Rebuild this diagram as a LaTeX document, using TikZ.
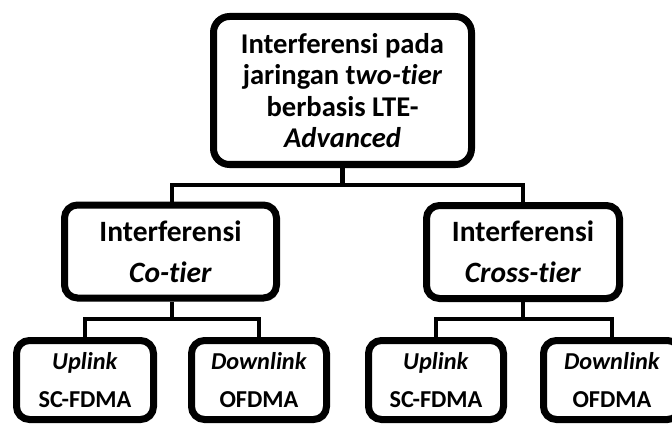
\documentclass[tikz,border=0pt]{standalone}
\usepackage{fontspec}
\setmainfont{Carlito}[Ligatures=NoCommon]
\usetikzlibrary{shadows}
\begin{document}
\begin{tikzpicture}[x=1pt,y=-1pt,
  box/.style={draw=black, line width=7pt, fill=white, rounded corners=13pt,
    inner sep=0pt, align=center,
    drop shadow={shadow xshift=2.5pt, shadow yshift=-3pt, opacity=0.22, fill=black}},
  topbox/.style={box, rounded corners=16pt, minimum width=258pt, minimum height=148pt,
    font=\fontsize{28.6}{31.5}\selectfont\bfseries},
  midbox/.style={box, minimum height=93pt,
    font=\fontsize{29.5}{41}\selectfont\bfseries},
  leafbox/.style={box, minimum height=79pt,
    font=\fontsize{24.3}{38}\selectfont\bfseries},
  conn/.style={draw=black, line width=4.8pt, line join=miter}]
  % page frame
  \fill[white] (0,0) rectangle (672,425);
  \useasboundingbox (0,0) rectangle (672,425);
  \clip (0,0) rectangle (672,425);

  % bus levels
  \coordinate (busA) at (0,185);
  \coordinate (busB) at (0,319);

  % boxes
  \node[topbox] (top) at (342.5,90.5)
    {Interferensi pada\\jaringan t\textit{wo-tier}\\berbasis LTE-\\\textit{Advanced}};
  \node[midbox, minimum width=212pt] (midL) at (170.5,251.5)
    {Interferensi\\\textit{Co-tier}};
  \node[midbox, minimum width=193pt] (midR) at (523,252)
    {Interferensi\\\textit{Cross-tier}};
  \node[leafbox, minimum width=137pt] (upL) at (85,380)
    {\textit{Uplink}\\SC-FDMA};
  \node[leafbox, minimum width=135pt] (downL) at (259,380)
    {\textit{Downlink}\\OFDMA};
  \node[leafbox, minimum width=135pt] (upR) at (436,380)
    {\textit{Uplink}\\SC-FDMA};
  \node[leafbox, minimum width=137pt] (downR) at (612,380)
    {\textit{Downlink}\\OFDMA};

  % tree links
  \draw[conn] (top.south) -- (top.south |- busA);
  \draw[conn] (midL.north -| 172,0) |- (top.south |- busA) -| (midR.north);
  \draw[conn] (midL.south -| 172,0) -- (172,319);
  \draw[conn] (upL.north) |- (172,319) -| (downL.north);
  \draw[conn] (midR.south) -- (midR.south |- busB);
  \draw[conn] (upR.north) |- (midR.south |- busB) -| (downR.north);
\end{tikzpicture}
\end{document}
